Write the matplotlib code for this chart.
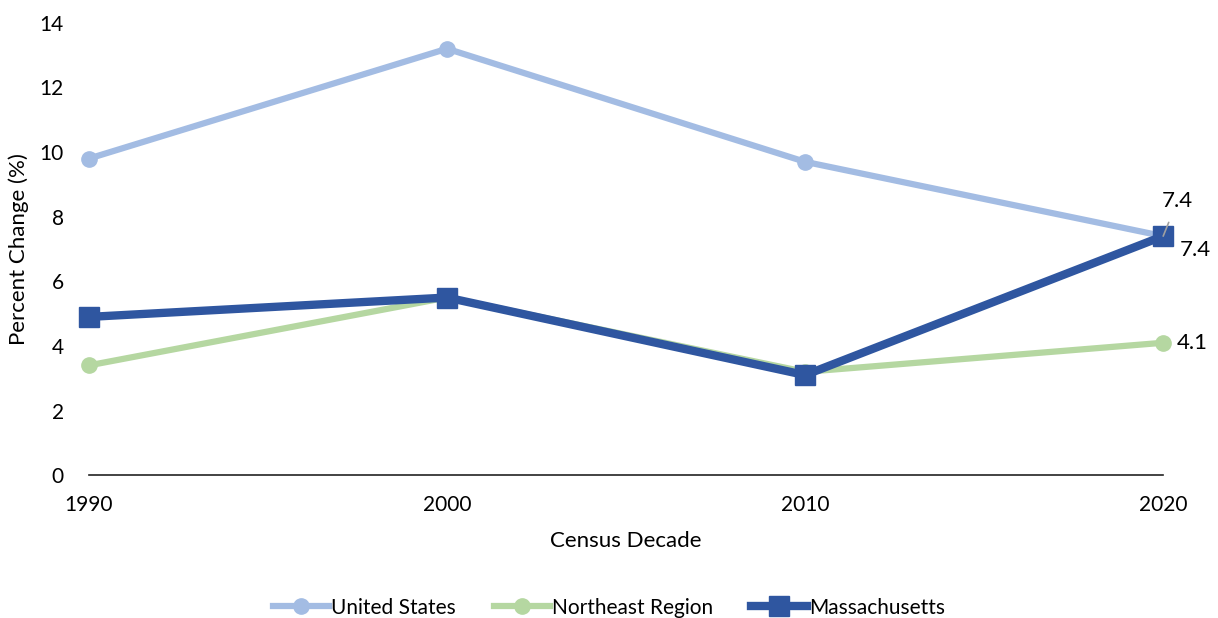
import matplotlib
matplotlib.use("Agg")
import matplotlib.pyplot as plt

plt.rcParams['font.family'] = ['Lato', 'DejaVu Sans']

years = [1990, 2000, 2010, 2020]
us = [9.8, 13.2, 9.7, 7.4]
northeast = [3.4, 5.5, 3.2, 4.1]
mass = [4.9, 5.5, 3.1, 7.4]

c_us = '#A3BCE3'
c_ne = '#B5D7A1'
c_ma = '#2F56A0'

fig = plt.figure(figsize=(12.18, 6.18), dpi=100)
ax = fig.add_axes([0.073, 0.231, 0.882, 0.732])

ax.plot(years, us, color=c_us, lw=4.5, marker='o', ms=11, label='United States', zorder=2)
ax.plot(years, northeast, color=c_ne, lw=4.5, marker='o', ms=11, label='Northeast Region', zorder=3)
ax.plot(years, mass, color=c_ma, lw=6, marker='s', ms=15, label='Massachusetts', zorder=4)

# end labels
ax.annotate(f'{us[-1]:.1f}', xy=(years[-1], us[-1]), xytext=(years[-1] + 0.4, us[-1] + 1.1),
            fontsize=16, ha='center', va='center',
            arrowprops=dict(arrowstyle='-', color='#A0A0A0', lw=1.2, shrinkA=7, shrinkB=0), zorder=5)
ax.annotate(f'{mass[-1]:.1f}', xy=(years[-1], mass[-1]), xytext=(12, -10), textcoords='offset points',
            fontsize=16, ha='left', va='center')
ax.annotate(f'{northeast[-1]:.1f}', xy=(years[-1], northeast[-1]), xytext=(10, 0), textcoords='offset points',
            fontsize=16, ha='left', va='center')

ax.set_xlim(1990, 2020)
ax.set_ylim(0, 14)
ax.set_xticks(years)
ax.set_yticks(range(0, 15, 2))
ax.tick_params(axis='both', length=0, labelsize=15)
ax.tick_params(axis='x', pad=14)
ax.tick_params(axis='y', pad=18)
for s in ['top', 'right', 'left']:
    ax.spines[s].set_visible(False)
ax.spines['bottom'].set_color('#222222')
ax.spines['bottom'].set_linewidth(1.2)
for ln in ax.lines:
    ln.set_clip_on(False)

ax.set_xlabel('Census Decade', fontsize=16, labelpad=12)
ax.set_ylabel('Percent Change (%)', fontsize=16, labelpad=8)

fig.legend(loc='lower center', bbox_to_anchor=(0.5, -0.03), ncol=3, frameon=False, fontsize=15,
           handlelength=2.7, handletextpad=0.1, columnspacing=1.8)

fig.savefig('out.png', dpi=100)
